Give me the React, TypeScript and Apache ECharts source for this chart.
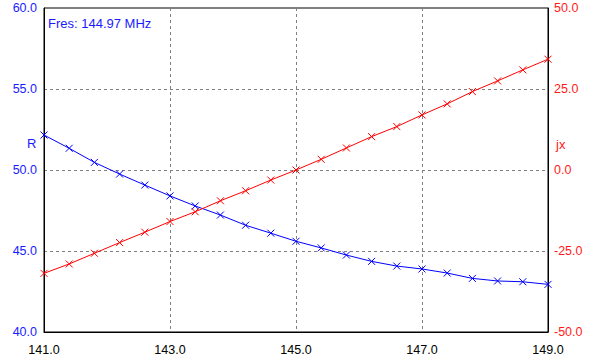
import React, { useEffect, useRef } from "react";
import * as echarts from "echarts";

const freqs = [141.0, 141.4, 141.8, 142.2, 142.6, 143.0, 143.4, 143.8, 144.2, 144.6, 145.0, 145.4, 145.8, 146.2, 146.6, 147.0, 147.4, 147.8, 148.2, 148.6, 149.0];
const rValues = [52.16, 51.34, 50.47, 49.75, 49.07, 48.4, 47.78, 47.22, 46.59, 46.1, 45.6, 45.19, 44.75, 44.36, 44.07, 43.89, 43.64, 43.31, 43.15, 43.1, 42.94];
const jxValues = [-31.9, -29.0, -25.7, -22.4, -19.2, -15.9, -12.9, -9.5, -6.4, -3.1, 0.0, 3.3, 6.8, 10.3, 13.4, 17.0, 20.4, 24.2, 27.5, 30.9, 34.2];
const annotation = "Fres: 144.97 MHz";

const FONT = "'Liberation Sans', Arial, sans-serif";
const X_SYMBOL = "path://M0,0L10,10M10,0L0,10";

export default function App() {
  const ref = useRef<HTMLDivElement>(null);
  useEffect(() => {
    if (!ref.current) return;
    const chart = echarts.init(ref.current, undefined, { renderer: "svg" });
    const dashed = { show: true, lineStyle: { color: "#808080", type: [3, 3] as any, width: 1 } };
    chart.setOption({
      animation: false,
      backgroundColor: "#ffffff",
      grid: { left: 44, right: 41, top: 8, bottom: 28, show: true, borderColor: "#000", borderWidth: 1, backgroundColor: "transparent" },
      xAxis: {
        type: "value", min: 141, max: 149, interval: 2,
        axisLine: { show: true, onZero: false, lineStyle: { color: "#000" } },
        axisTick: { show: false },
        splitLine: dashed,
        axisLabel: { color: "#000", fontFamily: FONT, fontSize: 12.5, margin: 11, formatter: (v: number) => v.toFixed(1) },
      },
      yAxis: [
        {
          type: "value", min: 40, max: 60, interval: 5, position: "left",
          axisLine: { show: true, onZero: false, lineStyle: { color: "#000" } },
          axisTick: { show: false },
          splitLine: dashed,
          axisLabel: { color: "#1a1aff", fontFamily: FONT, fontSize: 12.5, margin: 7, formatter: (v: number) => v.toFixed(1) },
        },
        {
          type: "value", min: -50, max: 50, interval: 25, position: "right",
          axisLine: { show: true, onZero: false, lineStyle: { color: "#000" } },
          axisTick: { show: false },
          splitLine: { show: false },
          axisLabel: { color: "#ff1a1a", fontFamily: FONT, fontSize: 12.5, margin: 6, formatter: (v: number) => v.toFixed(1) },
        },
      ],
      series: [
        {
          type: "line", yAxisIndex: 0,
          data: freqs.map((f, i) => [f, rValues[i]]),
          symbol: X_SYMBOL, symbolSize: 7, showAllSymbol: true,
          lineStyle: { color: "#0000ff", width: 1 },
          itemStyle: { color: "#0000ff", borderColor: "#0000ff", borderWidth: 1 },
          z: 3,
        },
        {
          type: "line", yAxisIndex: 1,
          data: freqs.map((f, i) => [f, jxValues[i]]),
          symbol: X_SYMBOL, symbolSize: 7, showAllSymbol: true,
          lineStyle: { color: "#ff0000", width: 1 },
          itemStyle: { color: "#ff0000", borderColor: "#ff0000", borderWidth: 1 },
          z: 3,
        },
      ],
      graphic: [
        { type: "text", left: 48, top: 17, style: { text: annotation, fill: "#1a1aff", font: `13px ${FONT}` } },
        { type: "text", left: 27, top: 137, style: { text: "R", fill: "#1a1aff", font: `13px ${FONT}` } },
        { type: "text", left: 556, top: 138, style: { text: "jx", fill: "#ff1a1a", font: `13px ${FONT}` } },
      ],
    });
    return () => chart.dispose();
  }, []);
  return <div ref={ref} style={{ width: 589, height: 360, position: "absolute", left: 0, top: 0 }} />;
}
